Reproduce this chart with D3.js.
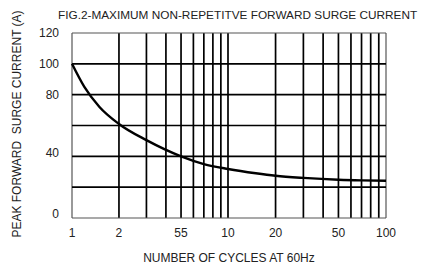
<!DOCTYPE html>
<html>
<head>
<meta charset="utf-8">
<script src="https://cdn.jsdelivr.net/npm/d3@7"></script>
<style>
  body { margin: 0; background: #fff; }
  text { font-family: "Liberation Sans", Arial, sans-serif; fill: #222; }
</style>
</head>
<body>
<svg id="chart" width="422" height="267"></svg>
<script>
// curve: cycles vs peak surge current (A)
const cycles = [1, 1.2, 1.5, 2, 3, 5, 7, 10, 15, 20, 30, 50, 70, 100];
const amps = [100, 85, 72, 61, 50.5, 40, 35, 31.8, 29, 27.4, 26, 24.8, 24.4, 24.2];

const xGrid = [1, 2, 3, 4, 5, 6, 7, 8, 9, 10, 20, 30, 40, 50, 60, 70, 80, 90, 100];
const yGrid = [0, 20, 40, 60, 80, 100, 120];
const xTickVals = [1, 2, 5, 10, 20, 50, 100];
const xTickText = ["1", "2", "55", "10", "20", "50", "100"];
const yTickVals = [0, 40, 80, 100, 120];

const svg = d3.select("#chart");

const x = d3.scaleLog().domain([1, 10, 100]).range([72, 228, 386]);
const y = d3.scaleLinear().domain([0, 120]).range([218, 33]);

// grid
svg.append("g")
    .selectAll("line")
    .data(xGrid)
    .enter().append("line")
    .attr("x1", d => x(d)).attr("x2", d => x(d))
    .attr("y1", y(0)).attr("y2", y(120))
    .style("stroke", d => (d === 1 || d === 100) ? "#555" : "#000")
    .style("stroke-width", d => (d === 1 || d === 100) ? 1.2 : 1.7);

svg.append("g")
    .selectAll("line")
    .data(yGrid)
    .enter().append("line")
    .attr("x1", x(1)).attr("x2", x(100))
    .attr("y1", d => y(d)).attr("y2", d => y(d))
    .style("stroke", d => (d === 0 || d === 120) ? "#555" : "#000")
    .style("stroke-width", d => (d === 0 || d === 120) ? 1.2 : 1.7);

// curve
const line = d3.line()
    .x((d, i) => x(cycles[i]))
    .y(d => y(d))
    .curve(d3.curveMonotoneX);

svg.append("path")
    .datum(amps)
    .attr("d", line)
    .style("fill", "none")
    .style("stroke", "#000")
    .style("stroke-width", 2.4);

// tick labels
svg.append("g")
    .selectAll("text")
    .data(xTickVals)
    .enter().append("text")
    .attr("x", d => x(d))
    .attr("y", 237)
    .attr("text-anchor", "middle")
    .style("font-size", "12px")
    .text((d, i) => xTickText[i]);

svg.append("g")
    .selectAll("text")
    .data(yTickVals)
    .enter().append("text")
    .attr("x", 59)
    .attr("y", d => y(d) - (d < 60 ? 4 : 0))
    .attr("dy", "0.35em")
    .attr("text-anchor", "end")
    .style("font-size", "12px")
    .text(d => d);

// titles
svg.append("text")
    .attr("x", 58)
    .attr("y", 19)
    .style("font-size", "11.8px")
    .text("FIG.2-MAXIMUM NON-REPETITVE FORWARD SURGE CURRENT");

svg.append("text")
    .attr("x", 229)
    .attr("y", 262)
    .attr("text-anchor", "middle")
    .style("font-size", "12px")
    .text("NUMBER OF CYCLES AT 60Hz");

svg.append("text")
    .attr("transform", "translate(21,124) rotate(-90)")
    .attr("text-anchor", "middle")
    .style("font-size", "12px")
    .style("white-space", "pre")
    .text("PEAK FORWARD  SURGE CURRENT (A)");
</script>
</body>
</html>
